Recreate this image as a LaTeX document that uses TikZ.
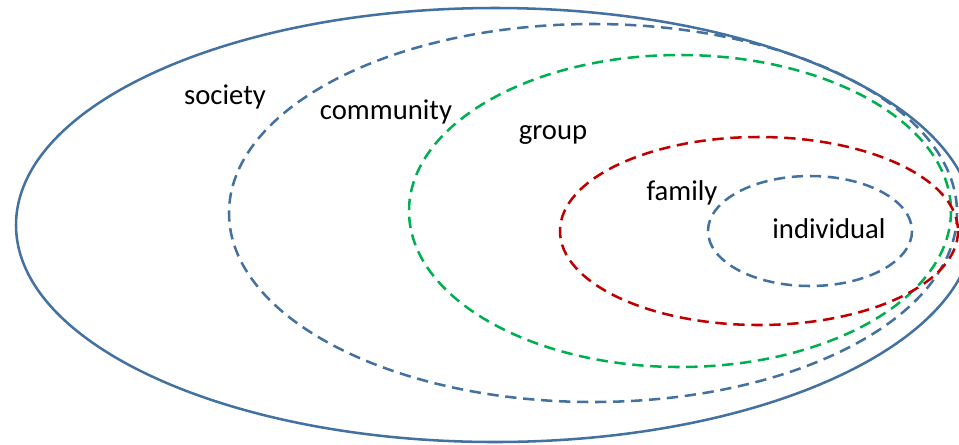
\documentclass[tikz,border=0pt]{standalone}
\usepackage{fontspec}
\setmainfont{Carlito}
\definecolor{ringblue}{RGB}{68,114,160}
\definecolor{ringgreen}{RGB}{0,176,80}
\definecolor{ringred}{RGB}{192,0,0}
\tikzset{
  ring/.style={line width=1.9pt},
  dring/.style={line width=1.9pt, dash pattern=on 8.5pt off 5pt},
  lbl/.style={font=\fontsize{21.5}{24}\selectfont, anchor=base, inner sep=0pt, text=black}
}
\begin{document}
\begin{tikzpicture}[x=0.75pt,y=-0.75pt]
\useasboundingbox (0,0) rectangle (959,444);
\clip (0,0) rectangle (959,444);
\draw[ring, ringblue] (495,225) ellipse [x radius=479, y radius=217];
\draw[dring, ringblue] (593,213) ellipse [x radius=364, y radius=189];
\draw[dring, ringgreen] (680,211) ellipse [x radius=271, y radius=156];
\draw[dring, ringred] (759,231) ellipse [x radius=199, y radius=94];
\draw[dring, ringblue] (810,231) ellipse [x radius=102, y radius=55];
\node[lbl] (society) at (225,104) {society};
\node[lbl] (community) at (386,119) {community};
\node[lbl] (group) at (553,139) {group};
\node[lbl] (family) at (682,200) {family};
\node[lbl] (individual) at (829,238) {individual};
\end{tikzpicture}
\end{document}
